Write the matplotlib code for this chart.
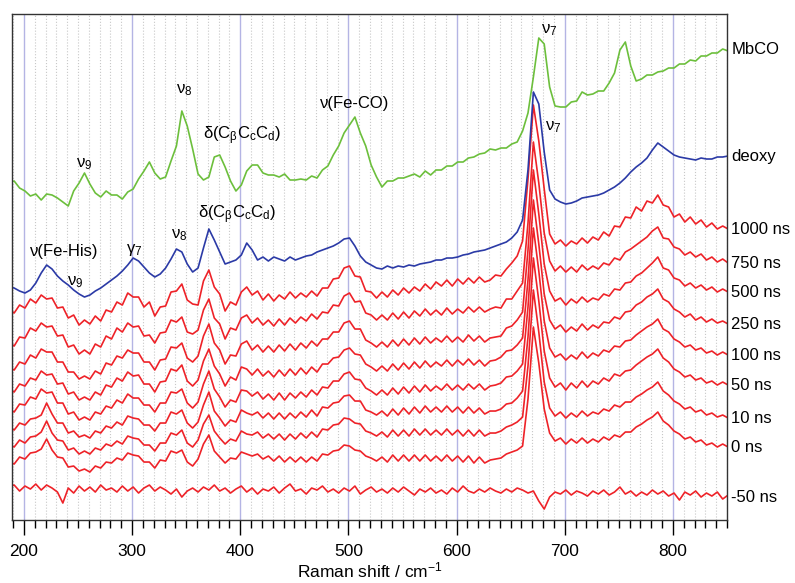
import matplotlib
matplotlib.use('Agg')
import matplotlib.pyplot as plt
import numpy as np
from matplotlib.ticker import MultipleLocator

plt.rcParams['font.family'] = ['Liberation Sans', 'DejaVu Sans']
plt.rcParams['mathtext.default'] = 'regular'

# Raman shift grid (cm-1), one value every 5 cm-1
wavenumber = np.arange(186, 852, 5)

# intensities, arbitrary units, each relative to its own trace
mbco = [-133, -131, -138, -141, -146, -144, -150, -144, -145, -148,
        -152, -156, -141, -133, -123, -134, -143, -147, -141, -145,
        -145, -149, -142, -139, -129, -121, -112, -123, -129, -127,
        -111, -96, -61, -76, -99, -124, -130, -127, -107, -105,
        -117, -131, -141, -135, -121, -115, -115, -123, -125, -125,
        -127, -124, -130, -130, -129, -130, -126, -128, -120, -116,
        -105, -96, -83, -75, -67, -83, -96, -115, -127, -137,
        -131, -131, -128, -128, -126, -124, -127, -121, -125, -120,
        -120, -116, -116, -112, -112, -108, -107, -104, -103, -99,
        -100, -98, -98, -94, -92, -81, -63, -27, 12, 6,
        -37, -56, -57, -57, -52, -51, -42, -45, -44, -41,
        -41, -33, -23, 0, 8, -16, -31, -29, -25, -25,
        -22, -21, -18, -18, -14, -14, -10, -11, -6, -6,
        -3, -3, 1, -1]

deoxy = [-131, -132, -135, -137, -134, -127, -117, -109, -113, -120,
         -125, -129, -134, -138, -141, -139, -135, -132, -128, -124,
         -120, -115, -109, -102, -105, -111, -117, -121, -118, -112,
         -103, -93, -96, -108, -116, -112, -92, -73, -84, -96,
         -108, -106, -104, -99, -87, -94, -104, -101, -105, -101,
         -103, -105, -101, -104, -102, -100, -99, -96, -94, -92,
         -90, -87, -83, -82, -90, -100, -106, -109, -112, -113,
         -110, -112, -110, -111, -109, -110, -108, -107, -106, -104,
         -104, -102, -102, -101, -99, -98, -96, -95, -94, -92,
         -90, -88, -86, -82, -76, -64, -14, 64, 52, 4,
         -34, -43, -46, -48, -47, -45, -42, -41, -40, -39,
         -37, -34, -31, -27, -22, -16, -11, -7, -2, 6,
         13, 9, 5, 1, -1, -2, -3, -4, -2, -3,
         -3, -1, -1, 0]

t1000 = [-80, -84, -76, -79, -70, -74, -66, -70, -69, -79,
         -78, -89, -86, -96, -91, -95, -87, -92, -81, -83,
         -73, -76, -64, -68, -68, -78, -73, -87, -78, -77,
         -63, -62, -55, -71, -75, -76, -52, -41, -58, -65,
         -82, -73, -76, -63, -58, -66, -62, -71, -65, -72,
         -66, -70, -63, -69, -64, -68, -62, -67, -59, -59,
         -50, -49, -39, -37, -47, -48, -62, -63, -69, -63,
         -68, -61, -66, -59, -64, -58, -62, -55, -60, -53,
         -57, -51, -57, -50, -55, -49, -54, -48, -53, -51,
         -46, -47, -40, -34, -27, -12, 50, 124, 88, 40,
         -5, -15, -11, -17, -12, -15, -9, -14, -8, -11,
         -3, -7, 3, 2, 12, 11, 22, 18, 28, 26,
         34, 24, 22, 12, 15, 7, 12, 5, 9, 2,
         6, 0, 3, 0]

t750 = [-79, -83, -74, -75, -65, -68, -60, -64, -63, -73,
        -72, -84, -82, -91, -87, -91, -81, -84, -73, -76,
        -65, -69, -60, -64, -63, -73, -72, -80, -70, -69,
        -57, -59, -54, -69, -71, -67, -47, -36, -55, -61,
        -76, -65, -67, -55, -52, -60, -55, -62, -57, -63,
        -56, -62, -55, -60, -54, -58, -51, -56, -49, -50,
        -42, -43, -33, -30, -39, -38, -50, -52, -57, -52,
        -57, -50, -56, -49, -55, -48, -53, -46, -52, -47,
        -52, -45, -51, -46, -50, -44, -49, -44, -49, -46,
        -44, -45, -36, -36, -28, -20, 40, 121, 80, 30,
        2, -8, -3, -9, -4, -9, -2, -7, -3, -6,
        0, -2, 5, 3, 11, 14, 18, 22, 26, 32,
        36, 25, 24, 16, 14, 8, 11, 6, 9, 3,
        6, 1, 4, 0]

t500 = [-75, -78, -70, -72, -63, -66, -57, -60, -60, -70,
        -70, -80, -80, -87, -84, -87, -79, -82, -71, -73,
        -64, -66, -58, -61, -61, -70, -70, -78, -68, -67,
        -55, -56, -51, -66, -70, -64, -44, -32, -51, -58,
        -72, -63, -64, -52, -49, -58, -53, -60, -54, -60,
        -53, -59, -52, -58, -51, -56, -49, -54, -47, -47,
        -40, -40, -31, -29, -37, -37, -48, -51, -55, -50,
        -55, -48, -54, -47, -53, -46, -52, -45, -51, -46,
        -50, -44, -50, -45, -50, -43, -49, -44, -50, -46,
        -45, -44, -36, -34, -28, -20, 42, 122, 78, 28,
        1, -9, -6, -13, -7, -11, -5, -10, -6, -8,
        -2, -4, 3, 2, 9, 10, 16, 19, 24, 29,
        35, 24, 22, 14, 12, 6, 9, 4, 7, 2,
        5, 0, 3, 0]

t250 = [-65, -68, -60, -62, -54, -56, -47, -51, -50, -60,
        -59, -70, -68, -76, -73, -76, -68, -71, -61, -63,
        -54, -57, -48, -52, -51, -60, -60, -68, -58, -57,
        -45, -47, -41, -57, -62, -56, -37, -25, -42, -50,
        -62, -53, -56, -43, -45, -51, -45, -52, -47, -53,
        -46, -52, -45, -51, -44, -50, -43, -48, -40, -40,
        -34, -33, -26, -24, -30, -31, -40, -43, -47, -42,
        -47, -40, -46, -39, -45, -38, -44, -37, -43, -38,
        -42, -36, -42, -36, -41, -35, -41, -36, -42, -37,
        -36, -33, -27, -26, -21, -14, 44, 124, 80, 30,
        4, -5, -1, -8, -3, -7, 0, -6, -1, -4,
        2, 1, 7, 5, 12, 13, 19, 22, 27, 30,
        35, 25, 22, 15, 12, 7, 10, 4, 7, 2,
        5, 1, 3, 0]

t100 = [-54, -57, -49, -50, -42, -44, -34, -38, -37, -48,
        -48, -59, -57, -65, -62, -65, -57, -59, -51, -53,
        -45, -48, -39, -43, -43, -50, -50, -57, -48, -48,
        -37, -38, -34, -48, -53, -47, -29, -16, -34, -42,
        -52, -45, -47, -35, -36, -41, -37, -44, -39, -45,
        -38, -45, -38, -43, -37, -42, -35, -40, -32, -33,
        -26, -26, -19, -17, -24, -25, -33, -36, -40, -35,
        -40, -33, -39, -32, -38, -31, -37, -30, -36, -31,
        -35, -29, -35, -30, -35, -29, -34, -29, -35, -31,
        -30, -28, -22, -21, -16, -9, 48, 127, 84, 34,
        7, -2, 1, -5, 0, -4, 3, -3, 2, -1,
        5, 3, 9, 8, 14, 15, 20, 24, 28, 31,
        36, 26, 23, 16, 13, 8, 10, 5, 7, 2,
        4, 0, 3, 0]

t50 = [-42, -45, -38, -40, -34, -33, -30, -18, -29, -38,
       -38, -48, -46, -52, -50, -53, -46, -48, -41, -43,
       -37, -40, -31, -33, -34, -40, -40, -46, -38, -38,
       -27, -29, -25, -38, -43, -37, -20, -7, -26, -33,
       -41, -35, -37, -25, -28, -30, -27, -33, -28, -34,
       -28, -34, -28, -33, -27, -32, -25, -31, -22, -23,
       -18, -17, -11, -10, -16, -16, -25, -27, -30, -26,
       -31, -24, -30, -23, -29, -22, -28, -21, -27, -22,
       -27, -21, -27, -22, -28, -22, -28, -23, -29, -26,
       -26, -24, -19, -18, -13, -6, 48, 127, 84, 34,
       7, -2, 2, -5, 2, -3, 4, -2, 4, 1,
       7, 4, 11, 9, 14, 15, 20, 24, 28, 31,
       36, 27, 23, 16, 13, 8, 10, 5, 7, 2,
       4, 0, 3, 0]

t10 = [-26, -29, -22, -25, -19, -18, -14, -3, -15, -22,
       -23, -32, -30, -36, -33, -36, -30, -32, -26, -28,
       -23, -26, -18, -20, -21, -27, -27, -33, -25, -25,
       -15, -17, -12, -25, -29, -22, -6, 3, -13, -20,
       -26, -21, -23, -13, -16, -17, -14, -20, -16, -21,
       -16, -22, -16, -21, -15, -20, -14, -19, -11, -12,
       -7, -6, 0, -1, -5, -6, -13, -15, -18, -14,
       -19, -12, -18, -12, -18, -11, -17, -11, -17, -12,
       -17, -11, -17, -12, -18, -12, -18, -12, -18, -15,
       -15, -13, -9, -7, -4, 1, 52, 128, 86, 36,
       10, 2, 6, 0, 5, 1, 7, 2, 6, 4,
       9, 7, 13, 11, 16, 16, 21, 24, 28, 31,
       36, 27, 23, 17, 14, 9, 11, 6, 8, 3,
       5, 1, 3, 0]

t0 = [-14, -17, -10, -12, -6, -5, -2, 8, -3, -10,
      -11, -20, -19, -24, -22, -25, -19, -21, -15, -16,
      -11, -13, -6, -8, -9, -15, -15, -21, -13, -14,
      -4, -6, -3, -15, -19, -12, 3, 12, -4, -10,
      -16, -11, -12, -5, -7, -9, -7, -12, -9, -14,
      -9, -15, -10, -15, -10, -15, -10, -14, -7, -8,
      -4, -3, 2, 1, -3, -4, -9, -11, -14, -10,
      -15, -8, -14, -8, -14, -8, -14, -8, -14, -9,
      -14, -8, -14, -9, -15, -9, -16, -10, -16, -13,
      -12, -11, -7, -5, -3, 1, 48, 120, 84, 38,
      14, 6, 9, 3, 8, 4, 9, 4, 8, 5,
      10, 7, 12, 10, 15, 15, 20, 23, 27, 30,
      35, 26, 22, 16, 13, 8, 10, 5, 7, 2,
      4, 0, 3, 0]

tm50 = [10, 12, 6, 11, 8, 13, 7, 12, 9, 5,
        -6, 9, 4, 11, 6, 10, 5, 12, 7, 9,
        5, 11, 6, 10, 4, 9, 12, 6, 10, 7,
        3, 8, 0, 6, 9, 5, 10, 7, 12, 6,
        9, 4, 8, 11, 5, 9, 3, 8, 6, 10,
        4, 9, 13, 6, 8, 3, 9, 7, 11, 5,
        8, 4, 9, 6, 11, 3, 7, 10, 5, 8,
        4, 9, 5, 10, 6, 2, 8, 5, 9, 4,
        7, 3, 9, 5, 11, 6, 4, 8, 5, 9,
        6, 4, 8, 5, 9, 7, 4, 6, -4, -12,
        0, 5, 3, 7, 2, 6, 4, 1, 6, 3,
        7, 2, 5, 10, 3, 6, 1, 5, 2, 7,
        3, 6, 1, 4, -3, 5, 2, 6, 0, 4,
        1, 5, -2, 2]

labels = ['MbCO', 'deoxy', '1000 ns', '750 ns', '500 ns', '250 ns',
          '100 ns', '50 ns', '10 ns', '0 ns', '-50 ns']
spectra = [mbco, deoxy, t1000, t750, t500, t250, t100, t50, t10, t0, tm50]
offsets = [470, 364, 291, 257, 228, 196, 165, 135, 102, 73, 23]

GREEN, BLUE, RED = '#6cbf3c', '#2b3aa6', '#ee2228'
colors = [GREEN, BLUE] + [RED] * 9

# band assignments: (text, wavenumber, height)
bands = [('ν$_9$', 256, 353), ('ν$_8$', 348, 427), ('δ(C$_β$C$_c$C$_d$)', 402, 381),
         ('ν(Fe-CO)', 506, 412), ('ν$_7$', 686, 487),
         ('ν(Fe-His)', 237, 264), ('ν$_9$', 247, 235), ('γ$_7$', 302, 267),
         ('ν$_8$', 344, 282), ('δ(C$_β$C$_c$C$_d$)', 397, 302), ('ν$_7$', 689, 390)]


def draw(ax):
    for spec, off, col in reversed(list(zip(spectra, offsets, colors))):
        ax.plot(wavenumber, np.array(spec) + off, color=col, lw=1.2)
    for lab, off in zip(labels, offsets):
        ax.text(1.006, off, lab, transform=ax.get_yaxis_transform(),
                ha='left', va='center', fontsize=12)
    for txt, x, y in bands:
        ax.text(x, y, txt, ha='center', va='baseline', fontsize=12)


fig = plt.figure(figsize=(7.95, 5.83), dpi=100)
ax = fig.add_axes([0.0151, 0.108, 0.8994, 0.868])
draw(ax)

ax.set_xlim(189, 850)
ax.set_ylim(0, 506)
ax.xaxis.set_major_locator(MultipleLocator(100))
ax.xaxis.set_minor_locator(MultipleLocator(10))
ax.tick_params(axis='x', which='major', direction='out', length=11, width=1,
               labelsize=12.5, pad=6)
ax.tick_params(axis='x', which='minor', direction='out', length=6, width=1)
ax.set_yticks([])
ax.grid(which='major', axis='x', color='#b4b4e4', lw=1)
ax.grid(which='minor', axis='x', color='#c8c8c8', ls=':', lw=0.8)
ax.set_axisbelow(True)
for s in ax.spines.values():
    s.set_color('#333333')
    s.set_linewidth(1)
ax.set_xlabel('Raman shift / cm$^{-1}$', fontsize=12.5, labelpad=1)

fig.savefig('out.png', dpi=100)
